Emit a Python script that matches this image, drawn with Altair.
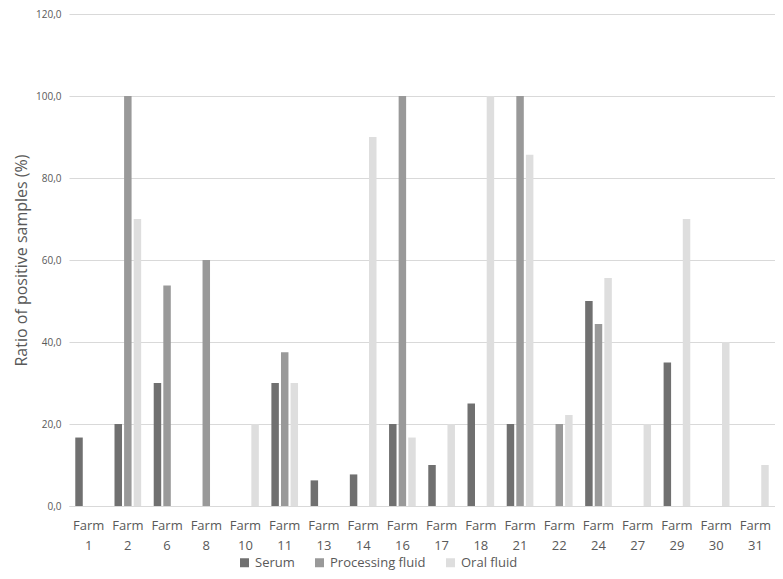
import altair as alt
import pandas as pd

farms = ["Farm 1", "Farm 2", "Farm 6", "Farm 8", "Farm 10", "Farm 11", "Farm 13", "Farm 14",
         "Farm 16", "Farm 17", "Farm 18", "Farm 21", "Farm 22", "Farm 24", "Farm 27", "Farm 29",
         "Farm 30", "Farm 31"]
series = ["Serum", "Processing fluid", "Oral fluid"]
serum = [16.7, 20.0, 30.0, 0, 0, 30.0, 6.25, 7.7, 20.0, 10.0, 25.0, 20.0, 0, 50.0, 0, 35.0, 0, 0]
processing = [0, 100.0, 53.8, 60.0, 0, 37.5, 0, 0, 100.0, 0, 0, 100.0, 20.0, 44.4, 0, 0, 0, 0]
oral = [0, 70.0, 0, 0, 20.0, 30.0, 0, 90.0, 16.7, 20.0, 100.0, 85.7, 22.2, 55.6, 20.0, 70.0, 40.0, 10.0]
colors = ["#707070", "#999999", "#dedede"]
y_ticks = [0, 20, 40, 60, 80, 100, 120]

rows = []
for i, f in enumerate(farms):
    for s, vals in zip(series, [serum, processing, oral]):
        rows.append({"farm": f, "series": s, "value": vals[i]})
df = pd.DataFrame(rows)

font = "Open Sans"
txt = "#595959"

chart = alt.Chart(df).mark_bar().encode(
    x=alt.X("farm:N", sort=farms, title=None,
            scale=alt.Scale(paddingInner=0.32, paddingOuter=0.16),
            axis=alt.Axis(labelAngle=0, ticks=False, domainColor="#d9d9d9",
                          labelExpr="['Farm', split(datum.value, ' ')[1]]",
                          labelFontSize=13, labelColor=txt, labelFont=font,
                          labelLineHeight=20, labelPadding=13)),
    xOffset=alt.XOffset("series:N", sort=series,
                        scale=alt.Scale(paddingInner=0.22, paddingOuter=0)),
    y=alt.Y("value:Q", title="Ratio of positive samples (%)",
            scale=alt.Scale(domain=[0, 120], nice=False),
            axis=alt.Axis(values=y_ticks, domain=False, ticks=False,
                          labelExpr="replace(format(datum.value, '.1f'), '.', ',')",
                          labelFontSize=10, labelColor=txt, labelFont=font, labelPadding=8,
                          gridColor="#d9d9d9", titleFontSize=16, titleColor=txt,
                          titleFont=font, titleFontWeight="normal", titlePadding=6)),
    color=alt.Color("series:N", sort=series,
                    scale=alt.Scale(domain=series, range=colors),
                    legend=alt.Legend(title=None, orient="none", direction="horizontal",
                                      legendX=169, legendY=542, symbolType="square",
                                      symbolSize=81, symbolStrokeWidth=0,
                                      labelFontSize=13, labelColor=txt, labelFont=font,
                                      columnPadding=18, labelOffset=4)),
).properties(
    width=706, height=492,
    autosize=alt.AutoSizeParams(type="none"),
    padding={"left": 61, "top": 6, "right": 0, "bottom": 65},
).configure_view(stroke=None)

chart.save("out.html", embed_options={"renderer": "svg", "actions": False})
